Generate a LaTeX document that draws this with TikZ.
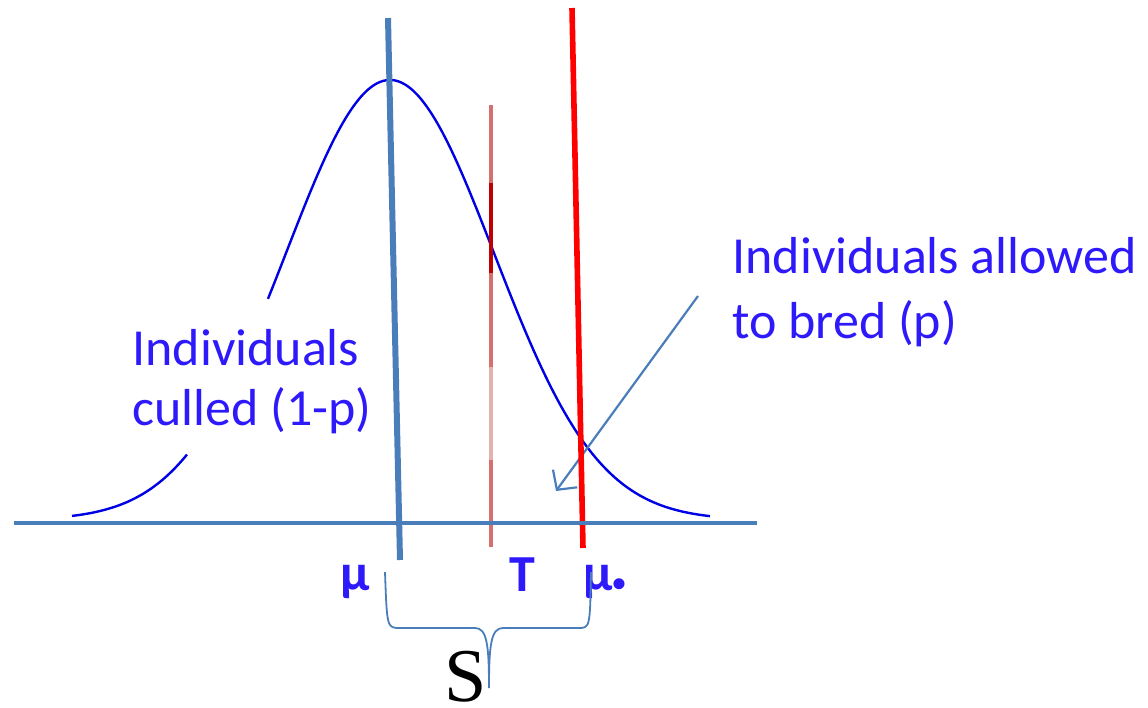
\documentclass[tikz,border=0pt]{standalone}
\usepackage{fontspec}
\setmainfont{Carlito}
\newfontfamily\serifS{Liberation Serif}
\usepackage{xcolor}
\definecolor{steel}{RGB}{74,126,187}
\definecolor{txtblue}{RGB}{45,25,250}
\definecolor{tpink}{RGB}{214,112,112}
\definecolor{tdark}{RGB}{192,0,0}
\definecolor{tlight}{RGB}{228,176,176}
\usetikzlibrary{arrows.meta}
\tikzset{
  axisline/.style={draw=steel,line width=2.4pt},
  bell/.style={draw=blue!90!black,line width=1.2pt},
  meanline/.style={draw=steel,line width=3pt},
  cutline/.style={line width=2pt},
  selline/.style={draw=red,line width=2.8pt},
  pointer/.style={draw=steel,line width=1.1pt,-{Straight Barb[length=7pt,width=15pt]}},
  brace/.style={draw=steel,line width=0.9pt},
  note/.style={font=\fontsize{26}{30}\selectfont,text=txtblue,align=left,inner sep=0pt},
  axlabel/.style={font=\bfseries\fontsize{26}{30}\selectfont,text=txtblue,inner sep=0pt},
}
\begin{document}
\begin{tikzpicture}[x=0.5pt,y=-0.5pt]
\useasboundingbox (0,0) rectangle (1148,708);
% normal curve, broken round the left label
\draw[bell] plot[domain=72:187,samples=40,smooth] (\x,{520-440*exp(-0.5*((\x-390)/104)^2)});
\draw[bell] plot[domain=268:710,samples=120,smooth] (\x,{520-440*exp(-0.5*((\x-390)/104)^2)});
% arrow to the selected tail
\coordinate (tailtip) at (556,491);
\coordinate (tailfrom) at (698,296);
\draw[pointer] (tailfrom) -- (tailtip);
% truncation point T
\draw[cutline,tpink] (491,105) -- (491,183);
\draw[cutline,tdark] (491,183) -- (491,273);
\draw[cutline,tpink] (491,273) -- (491,367);
\draw[cutline,tlight] (491,367) -- (491,460);
\draw[cutline,tpink] (491,460) -- (491,547);
% mean of selected parents
\draw[selline] (572,8) -- (583,548);
% population mean
\draw[meanline] (388,18) -- (400,560);
% axis
\coordinate (ax0) at (14,523);
\coordinate (ax1) at (757,523);
\draw[axisline] (ax0) -- (ax1);
% labels (base = last line)
\node[note,anchor=base west] (culled) at (132,425) {Individuals\\culled (1-p)};
\node[note,anchor=base west,font=\fontsize{26}{32.5}\selectfont] (bred) at (732,338) {Individuals allowed\\to bred (p)};
\node[axlabel,anchor=base] (mu) at (355,590) {μ};
\node[axlabel,anchor=base] (tlab) at (522,591) {T};
\node[axlabel,anchor=base west] (mustar) at (583,590) {μ\raisebox{-0.02em}{\fontsize{13}{13}\selectfont•}};
% selection differential
\draw[brace] (385,572) .. controls (387,628) .. (400,628) -- (475,628)
  .. controls (487,628) and (489,645) .. (489,688)
  .. controls (489,645) and (491,628) .. (503,628) -- (578,628)
  .. controls (590,628) .. (591,572);
\node[font=\serifS\fontsize{38}{38}\selectfont,inner sep=0pt,anchor=base] (sdiff) at (466,701) {S};
\end{tikzpicture}
\end{document}
